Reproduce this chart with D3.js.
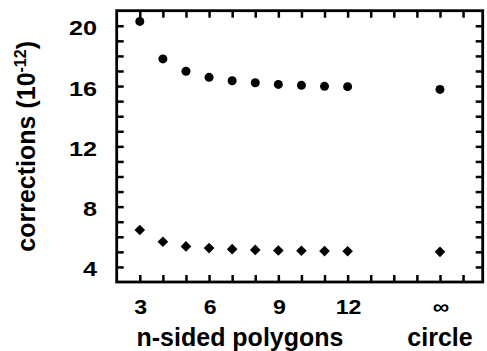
<!DOCTYPE html>
<html>
<head>
<meta charset="utf-8">
<script src="https://cdn.jsdelivr.net/npm/d3@7"></script>
<style>
  body { margin: 0; background: white; }
  text { font-family: "Liberation Sans", Arial, Helvetica, sans-serif; font-weight: bold; fill: black; }
</style>
</head>
<body>
<div id="container"></div>
<script>
let w = 487;
let h = 351;

// data (n = number of sides, infinity drawn at x = 16)
let sides = [3, 4, 5, 6, 7, 8, 9, 10, 11, 12, 16];
let upperValues = [20.29, 17.8, 16.98, 16.58, 16.35, 16.22, 16.11, 16.05, 15.98, 15.96, 15.78];
let lowerValues = [6.45, 5.67, 5.36, 5.25, 5.18, 5.13, 5.09, 5.07, 5.05, 5.04, 5.0];
let xLabels = [[3, "3"], [6, "6"], [9, "9"], [12, "12"], [16, "\u221e"]];
let yLabels = [4, 8, 12, 16, 20];

let viz = d3.select("#container").append("svg")
    .attr("width", w)
    .attr("height", h)
    .style("background-color", "white");

let pLeft = 116.7, pRight = 482.7, pTop = 10.7, pBottom = 282;

let x = d3.scaleLinear().domain([2, 17.85]).range([pLeft, pRight]);
let y = d3.scaleLinear().domain([3, 21]).range([pBottom, pTop]);

// tick marks on all four sides, pointing inwards
let tickLen = 7;
viz.append("g").attr("transform", `translate(0,${pBottom})`)
    .call(d3.axisBottom(x).tickValues(d3.range(3, 18)).tickSize(-tickLen).tickFormat(""));
viz.append("g").attr("transform", `translate(0,${pTop})`)
    .call(d3.axisTop(x).tickValues(d3.range(3, 18)).tickSize(-tickLen).tickFormat(""));
viz.append("g").attr("transform", `translate(${pLeft},0)`)
    .call(d3.axisLeft(y).tickValues(d3.range(4, 21)).tickSize(-tickLen).tickFormat(""));
viz.append("g").attr("transform", `translate(${pRight},0)`)
    .call(d3.axisRight(y).tickValues(d3.range(4, 21)).tickSize(-tickLen).tickFormat(""));

viz.selectAll(".domain").remove();
viz.selectAll(".tick line").attr("stroke", "black").attr("stroke-width", 2.5);

// frame
viz.append("rect")
    .attr("x", pLeft).attr("y", pTop)
    .attr("width", pRight - pLeft).attr("height", pBottom - pTop)
    .attr("fill", "none").attr("stroke", "black").attr("stroke-width", 2.8);

// tick labels
viz.selectAll(".xlab").data(xLabels).enter()
    .append("text")
    .attr("class", "xlab")
    .attr("transform", d => `translate(${x(d[0]) + 1},314) scale(1.1,1)`)
    .attr("text-anchor", "middle")
    .style("font-size", "21px")
    .text(d => d[1]);

viz.selectAll(".ylab").data(yLabels).enter()
    .append("text")
    .attr("class", "ylab")
    .attr("transform", d => `translate(97,${y(d) + 2})  scale(1.2,1)`)
    .attr("dy", "0.36em")
    .attr("text-anchor", "end")
    .style("font-size", "21px")
    .text(d => d);

// axis titles
viz.append("text")
    .attr("x", 240).attr("y", 346)
    .attr("text-anchor", "middle")
    .style("font-size", "25px")
    .text("n-sided polygons");

viz.append("text")
    .attr("x", x(16)).attr("y", 346)
    .attr("text-anchor", "middle")
    .style("font-size", "25px")
    .text("circle");

let yt = viz.append("text")
    .attr("transform", `translate(35,${(pTop + pBottom) / 2}) rotate(-90)`)
    .attr("text-anchor", "middle")
    .style("font-size", "25px");
yt.append("tspan").text("corrections (10");
yt.append("tspan").attr("dy", -9).style("font-size", "16px").text("-12");
yt.append("tspan").attr("dy", 9).text(")");

// markers
viz.selectAll(".upper").data(sides).enter()
    .append("circle")
    .attr("class", "upper")
    .attr("cx", d => x(d))
    .attr("cy", (d, i) => y(upperValues[i]))
    .attr("r", 4.5)
    .attr("fill", "black");

viz.selectAll(".lower").data(sides).enter()
    .append("path")
    .attr("class", "lower")
    .attr("d", d3.symbol().type(d3.symbolDiamond2).size(72))
    .attr("transform", (d, i) => `translate(${x(d)},${y(lowerValues[i])})`)
    .attr("fill", "black");
</script>
</body>
</html>
